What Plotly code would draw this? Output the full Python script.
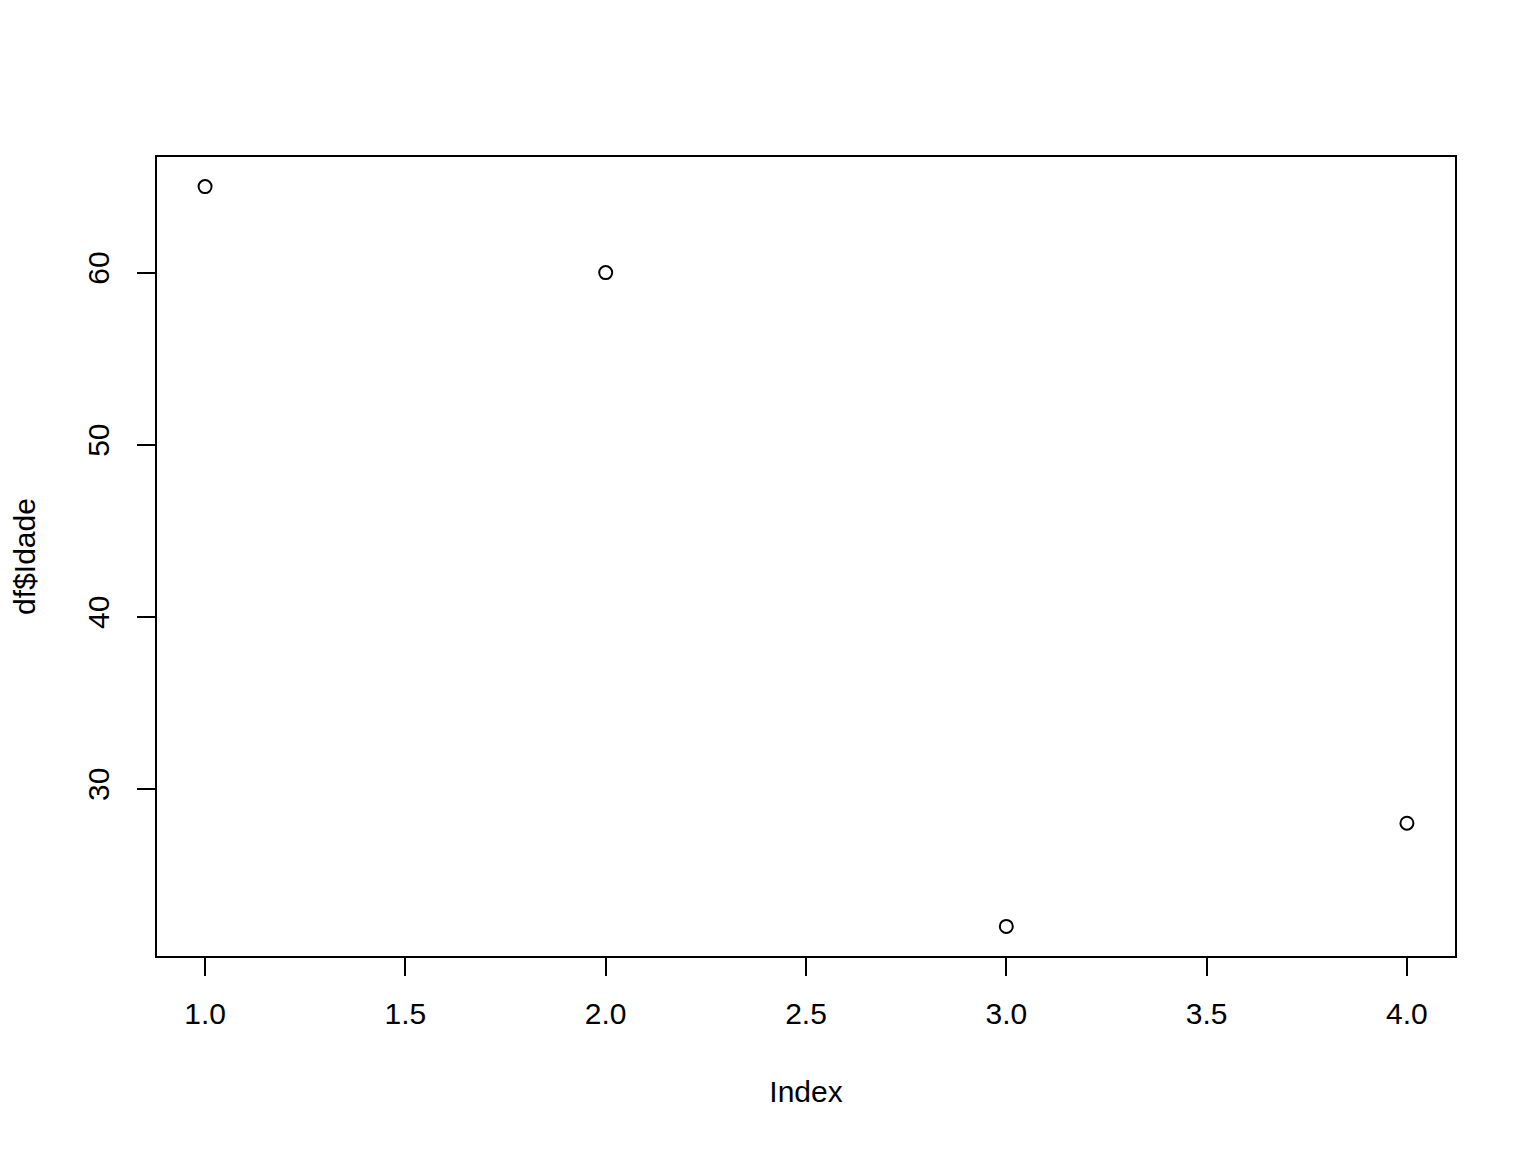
import plotly.graph_objects as go

index = [1, 2, 3, 4]
idade = [65, 60, 22, 28]
x_ticks = [1.0, 1.5, 2.0, 2.5, 3.0, 3.5, 4.0]
x_tick_labels = ["1.0", "1.5", "2.0", "2.5", "3.0", "3.5", "4.0"]
y_ticks = [30, 40, 50, 60]
y_tick_labels = ["30", "40", "50", "60"]

fig = go.Figure()
fig.add_trace(go.Scatter(
    x=index, y=idade, mode="markers",
    marker=dict(symbol="circle-open", size=13, color="black", line=dict(width=2, color="black")),
    showlegend=False,
))

font = dict(family="Liberation Sans, Arial, sans-serif", size=30, color="black")
xr = (min(index), max(index))
yr = (min(idade), max(idade))
xpad = (xr[1] - xr[0]) * 0.04
ypad = (yr[1] - yr[0]) * 0.04

fig.update_layout(
    width=1536, height=1152,
    paper_bgcolor="white", plot_bgcolor="white",
    margin=dict(l=149, r=89, t=149, b=204),
    font=font,
    xaxis=dict(
        range=[xr[0] - xpad, xr[1] + xpad],
        tickvals=x_ticks, ticktext=x_tick_labels,
        showgrid=False, zeroline=False, automargin=False,
        showline=True, linecolor="black", linewidth=2, mirror=True,
        ticks="outside", ticklen=18, tickwidth=2, tickcolor="black",
        tickfont=font, ticklabelstandoff=12,
        title=dict(text="Index", font=font, standoff=52),
    ),
    yaxis=dict(
        range=[yr[0] - ypad, yr[1] + ypad],
        tickvals=y_ticks, ticktext=y_tick_labels,
        showgrid=False, zeroline=False, automargin=False,
        showline=True, linecolor="black", linewidth=2, mirror=True,
        ticks="outside", ticklen=18, tickwidth=2, tickcolor="black",
        tickangle=-90, tickfont=font, ticklabelstandoff=16,
        title=dict(text="df$Idade", font=font, standoff=44),
    ),
)

fig.write_html("out.html")
